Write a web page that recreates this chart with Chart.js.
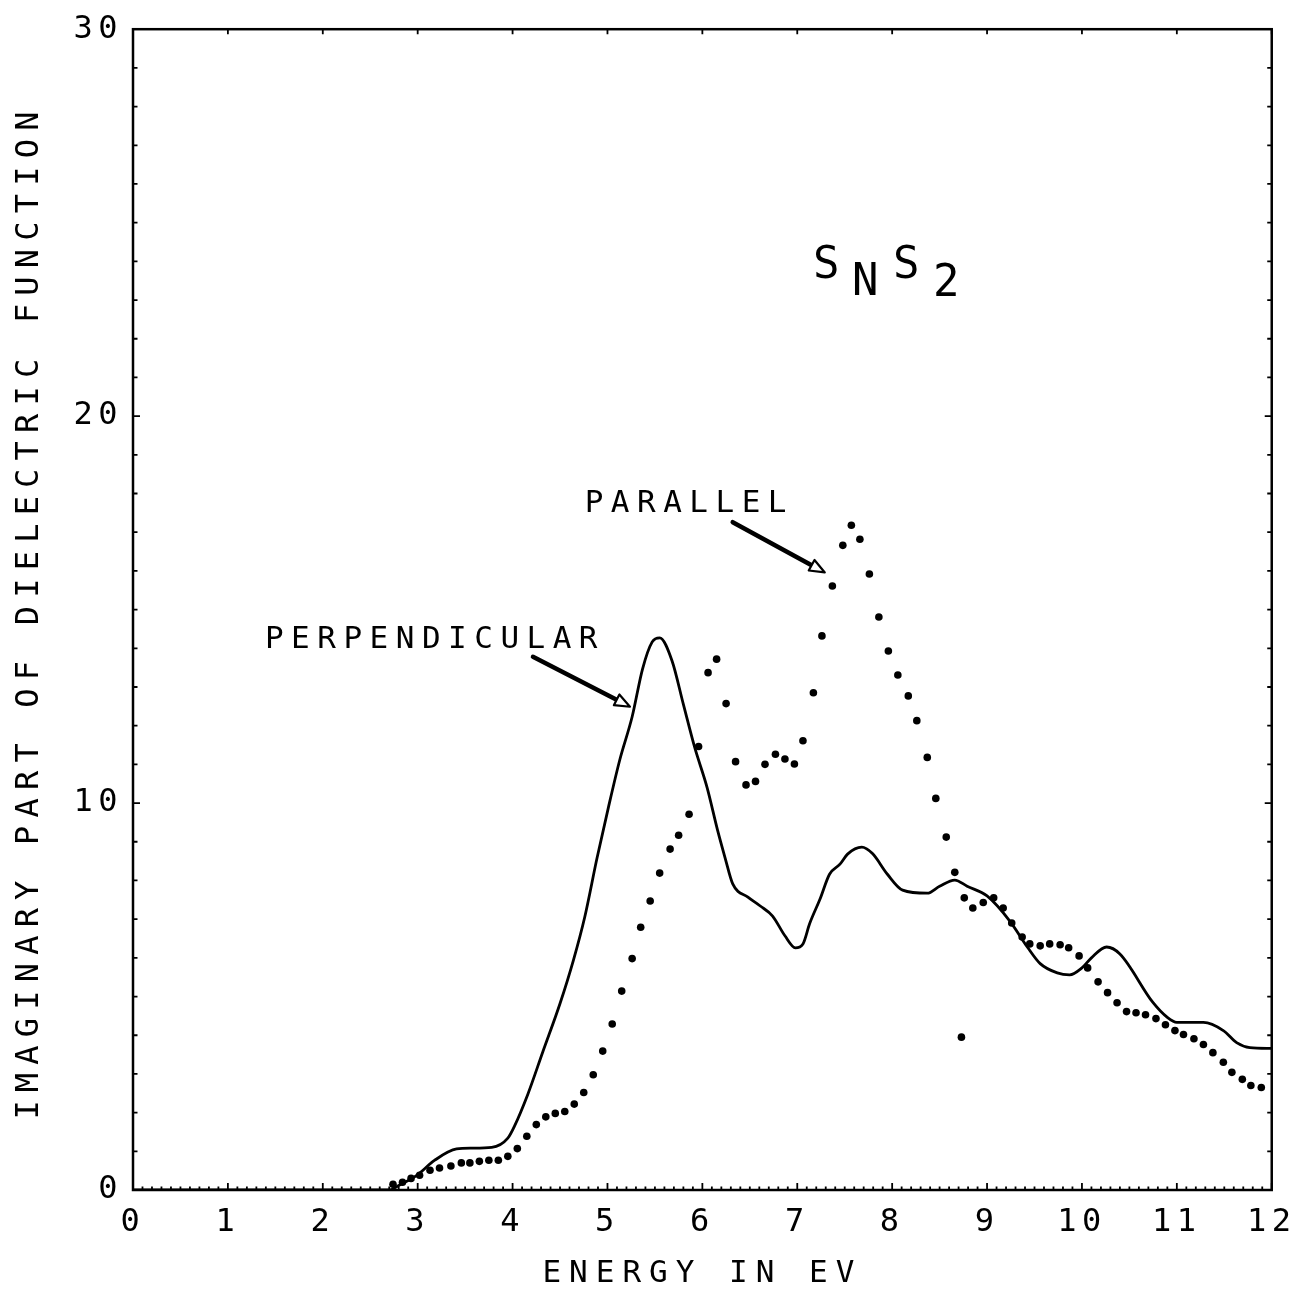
<!DOCTYPE html>
<html>
<head>
<meta charset="utf-8">
<script src="https://cdn.jsdelivr.net/npm/chart.js@4.4.1/dist/chart.umd.min.js"></script>
<style>
html,body{margin:0;padding:0;background:#fff;}
#wrap{width:1304px;height:1294px;position:relative;}
</style>
</head>
<body>
<div id="wrap"><canvas id="c" width="1304" height="1294"></canvas></div>
<script>
// ---- data ----
const perpEnergy = [0, 2.70, 2.81, 2.99, 3.18, 3.41, 3.57, 3.78, 3.95, 4.02, 4.16, 4.32, 4.50, 4.64, 4.76, 4.89, 5.01, 5.13, 5.26, 5.37, 5.47, 5.55, 5.68, 5.80, 5.92, 6.05, 6.16, 6.24, 6.32, 6.48, 6.61, 6.74, 6.87, 6.98, 7.06, 7.13, 7.24, 7.34, 7.45, 7.53, 7.68, 7.79, 7.95, 8.11, 8.37, 8.50, 8.66, 8.79, 9.00, 9.24, 9.43, 9.56, 9.74, 9.87, 10.00, 10.10, 10.26, 10.40, 10.75, 10.90, 11.00, 11.28, 11.49, 11.63, 11.77, 12.00];
const perpValue  = [0, 0, 0.13, 0.38, 0.77, 1.06, 1.08, 1.10, 1.34, 1.65, 2.47, 3.58, 4.82, 5.93, 7.05, 8.58, 9.89, 11.12, 12.23, 13.47, 14.16, 14.27, 13.68, 12.55, 11.43, 10.40, 9.30, 8.58, 7.91, 7.57, 7.34, 7.08, 6.57, 6.26, 6.36, 6.88, 7.52, 8.16, 8.42, 8.68, 8.86, 8.70, 8.16, 7.75, 7.67, 7.85, 8.01, 7.85, 7.60, 6.95, 6.26, 5.85, 5.61, 5.56, 5.74, 6.00, 6.28, 6.10, 4.84, 4.46, 4.33, 4.33, 4.12, 3.81, 3.68, 3.66];

const parEnergy = [2.74, 2.84, 2.93, 3.02, 3.13, 3.23, 3.35, 3.46, 3.55, 3.65, 3.75, 3.85, 3.95, 4.05, 4.15, 4.25, 4.35, 4.45, 4.55, 4.65, 4.75, 4.85, 4.95, 5.05, 5.15, 5.26, 5.35, 5.45, 5.55, 5.66, 5.75, 5.86, 5.96, 6.06, 6.15, 6.25, 6.35, 6.46, 6.56, 6.66, 6.77, 6.87, 6.97, 7.06, 7.17, 7.26, 7.37, 7.48, 7.57, 7.66, 7.76, 7.86, 7.96, 8.06, 8.17, 8.26, 8.37, 8.46, 8.57, 8.66, 8.73, 8.76, 8.85, 8.96, 9.07, 9.17, 9.26, 9.37, 9.45, 9.56, 9.66, 9.77, 9.86, 9.97, 10.06, 10.17, 10.27, 10.37, 10.47, 10.57, 10.67, 10.78, 10.88, 10.98, 11.07, 11.18, 11.28, 11.38, 11.49, 11.58, 11.69, 11.78, 11.89];
const parValue  = [0.15, 0.20, 0.30, 0.38, 0.51, 0.57, 0.62, 0.70, 0.70, 0.74, 0.77, 0.77, 0.87, 1.07, 1.39, 1.69, 1.89, 1.98, 2.03, 2.22, 2.52, 2.98, 3.59, 4.29, 5.14, 5.98, 6.79, 7.47, 8.19, 8.81, 9.17, 9.71, 11.46, 13.37, 13.72, 12.57, 11.07, 10.47, 10.56, 11.00, 11.26, 11.14, 11.01, 11.61, 12.85, 14.32, 15.61, 16.66, 17.18, 16.82, 15.92, 14.81, 13.93, 13.31, 12.77, 12.13, 11.18, 10.12, 9.12, 8.21, 3.95, 7.55, 7.29, 7.43, 7.55, 7.29, 6.90, 6.54, 6.36, 6.31, 6.36, 6.34, 6.26, 6.05, 5.74, 5.38, 5.10, 4.84, 4.61, 4.58, 4.53, 4.43, 4.27, 4.12, 4.02, 3.91, 3.76, 3.55, 3.30, 3.04, 2.86, 2.70, 2.65];

const xTickLabels = ['0','1','2','3','4','5','6','7','8','9','10','11','12'];
const yTickLabels = {0:'0', 10:'10', 20:'20', 30:'30'};
const xTitle = 'ENERGY IN EV';
const yTitle = 'IMAGINARY PART OF DIELECTRIC FUNCTION';

// annotations (data units)
const labelTexts = [
  {text:'PERPENDICULAR', x:1.39, y:14.01, size:31},
  {text:'PARALLEL', x:4.76, y:17.51, size:31}
];
const arrows = [
  {x0:4.215, y0:13.78, x1:5.237, y1:12.49},
  {x0:6.32, y0:17.26, x1:7.29, y1:15.96}
];
const formulaParts = [
  {text:'S', x:7.165, y:23.56},
  {text:'N', x:7.576, y:23.13},
  {text:'S', x:8.008, y:23.56},
  {text:'2', x:8.43, y:23.10}
];

const FONT = '"DejaVu Sans Mono", "Liberation Mono", monospace';

const bgPlugin = {
  id:'bg',
  beforeDraw(chart){
    const c = chart.ctx;
    c.save();
    c.fillStyle = '#fff';
    c.fillRect(0,0,chart.width,chart.height);
    c.restore();
    c.letterSpacing = '5.5px';
  }
};

const framePlugin = {
  id:'frame',
  afterDraw(chart){
    const c = chart.ctx;
    const a = chart.chartArea;
    const xs = chart.scales.x, ys = chart.scales.y;
    c.save();
    c.letterSpacing = '0px';
    c.strokeStyle = '#000';
    c.lineWidth = 2.5;
    c.strokeRect(a.left, a.top, a.right - a.left, a.bottom - a.top);
    c.lineWidth = 1.8;
    c.beginPath();
    // bottom: minor ticks every 0.1, majors at integers (inward)
    for (let i = 0; i <= 120; i++) {
      const px = xs.getPixelForValue(i / 10);
      const len = (i % 10 === 0) ? 7 : 3.5;
      c.moveTo(px, a.bottom); c.lineTo(px, a.bottom - len);
    }
    // top: integer ticks
    for (let i = 0; i <= 12; i++) {
      const px = xs.getPixelForValue(i);
      c.moveTo(px, a.top); c.lineTo(px, a.top + 5);
    }
    // left/right: every unit
    for (let j = 0; j <= 30; j++) {
      const py = ys.getPixelForValue(j);
      const len = (j % 10 === 0) ? 7 : 4.5;
      c.moveTo(a.left, py); c.lineTo(a.left + len, py);
      c.moveTo(a.right, py); c.lineTo(a.right - len, py);
    }
    c.stroke();

    // arrows
    arrows.forEach(ar => {
      const x0 = xs.getPixelForValue(ar.x0), y0 = ys.getPixelForValue(ar.y0);
      const x1 = xs.getPixelForValue(ar.x1), y1 = ys.getPixelForValue(ar.y1);
      const ang = Math.atan2(y1 - y0, x1 - x0);
      const hl = 15, hw = 6;
      const bx = x1 - hl * Math.cos(ang), by = y1 - hl * Math.sin(ang);
      c.lineWidth = 4.5;
      c.lineCap = 'round';
      c.beginPath(); c.moveTo(x0, y0); c.lineTo(bx, by); c.stroke();
      c.lineWidth = 2.2;
      c.lineJoin = 'round';
      c.beginPath();
      c.moveTo(x1, y1);
      c.lineTo(bx + hw * Math.sin(ang), by - hw * Math.cos(ang));
      c.lineTo(bx - hw * Math.sin(ang), by + hw * Math.cos(ang));
      c.closePath();
      c.fillStyle = '#fff'; c.fill();
      c.stroke();
    });

    // labels
    c.fillStyle = '#000';
    c.textBaseline = 'alphabetic';
    c.textAlign = 'left';
    labelTexts.forEach(t => {
      c.font = t.size + 'px ' + FONT;
      c.letterSpacing = '7.5px';
      c.fillText(t.text, xs.getPixelForValue(t.x), ys.getPixelForValue(t.y));
    });
    c.letterSpacing = '0px';
    c.font = '44px ' + FONT;
    formulaParts.forEach(t => {
      c.fillText(t.text, xs.getPixelForValue(t.x), ys.getPixelForValue(t.y));
    });

    // axis titles
    c.textAlign = 'center';
    c.textBaseline = 'middle';
    const spX = 8;
    c.letterSpacing = spX + 'px';
    c.font = '31px ' + FONT;
    c.fillText(xTitle, (a.left + a.right) / 2 - 4 + spX / 2, a.bottom + 84);
    const spY = 8.2;
    c.letterSpacing = spY + 'px';
    c.font = '32px ' + FONT;
    c.save();
    c.translate(30, (a.top + a.bottom) / 2 + 6);
    c.rotate(-Math.PI / 2);
    c.fillText(yTitle, spY / 2, 0);
    c.restore();
    c.restore();
  }
};

new Chart(document.getElementById('c'), {
  type: 'scatter',
  data: {
    datasets: [
      {
        label: 'PERPENDICULAR',
        data: perpEnergy.map((e, i) => ({x: e, y: perpValue[i]})),
        showLine: true,
        borderColor: '#000',
        borderWidth: 2.8,
        pointRadius: 0,
        cubicInterpolationMode: 'monotone',
        fill: false
      },
      {
        label: 'PARALLEL',
        data: parEnergy.map((e, i) => ({x: e, y: parValue[i]})),
        showLine: false,
        pointRadius: 3.8,
        pointBackgroundColor: '#000',
        pointBorderWidth: 0,
        borderColor: '#000'
      }
    ]
  },
  options: {
    responsive: false,
    animation: false,
    devicePixelRatio: 1,
    layout: { padding: { top: 25, right: 32, left: 0, bottom: 0 } },
    plugins: { legend: { display: false }, tooltip: { enabled: false } },
    scales: {
      x: {
        type: 'linear', min: 0, max: 12,
        afterFit(s){ s.height = 104; },
        grid: { display: false, drawTicks: false },
        border: { display: false },
        ticks: {
          stepSize: 1, padding: 13, color: '#000', maxRotation: 0,
          font: { family: FONT, size: 32 },
          callback: v => xTickLabels[v] ?? ''
        },
        title: { display: false }
      },
      y: {
        type: 'linear', min: 0, max: 30,
        afterFit(s){ s.width = 133; },
        grid: { display: false, drawTicks: false },
        border: { display: false },
        ticks: {
          stepSize: 10, padding: 10, color: '#000',
          font: { family: FONT, size: 32 },
          callback: v => yTickLabels[v] ?? ''
        },
        title: { display: false }
      }
    }
  },
  plugins: [bgPlugin, framePlugin]
});
</script>
</body>
</html>
